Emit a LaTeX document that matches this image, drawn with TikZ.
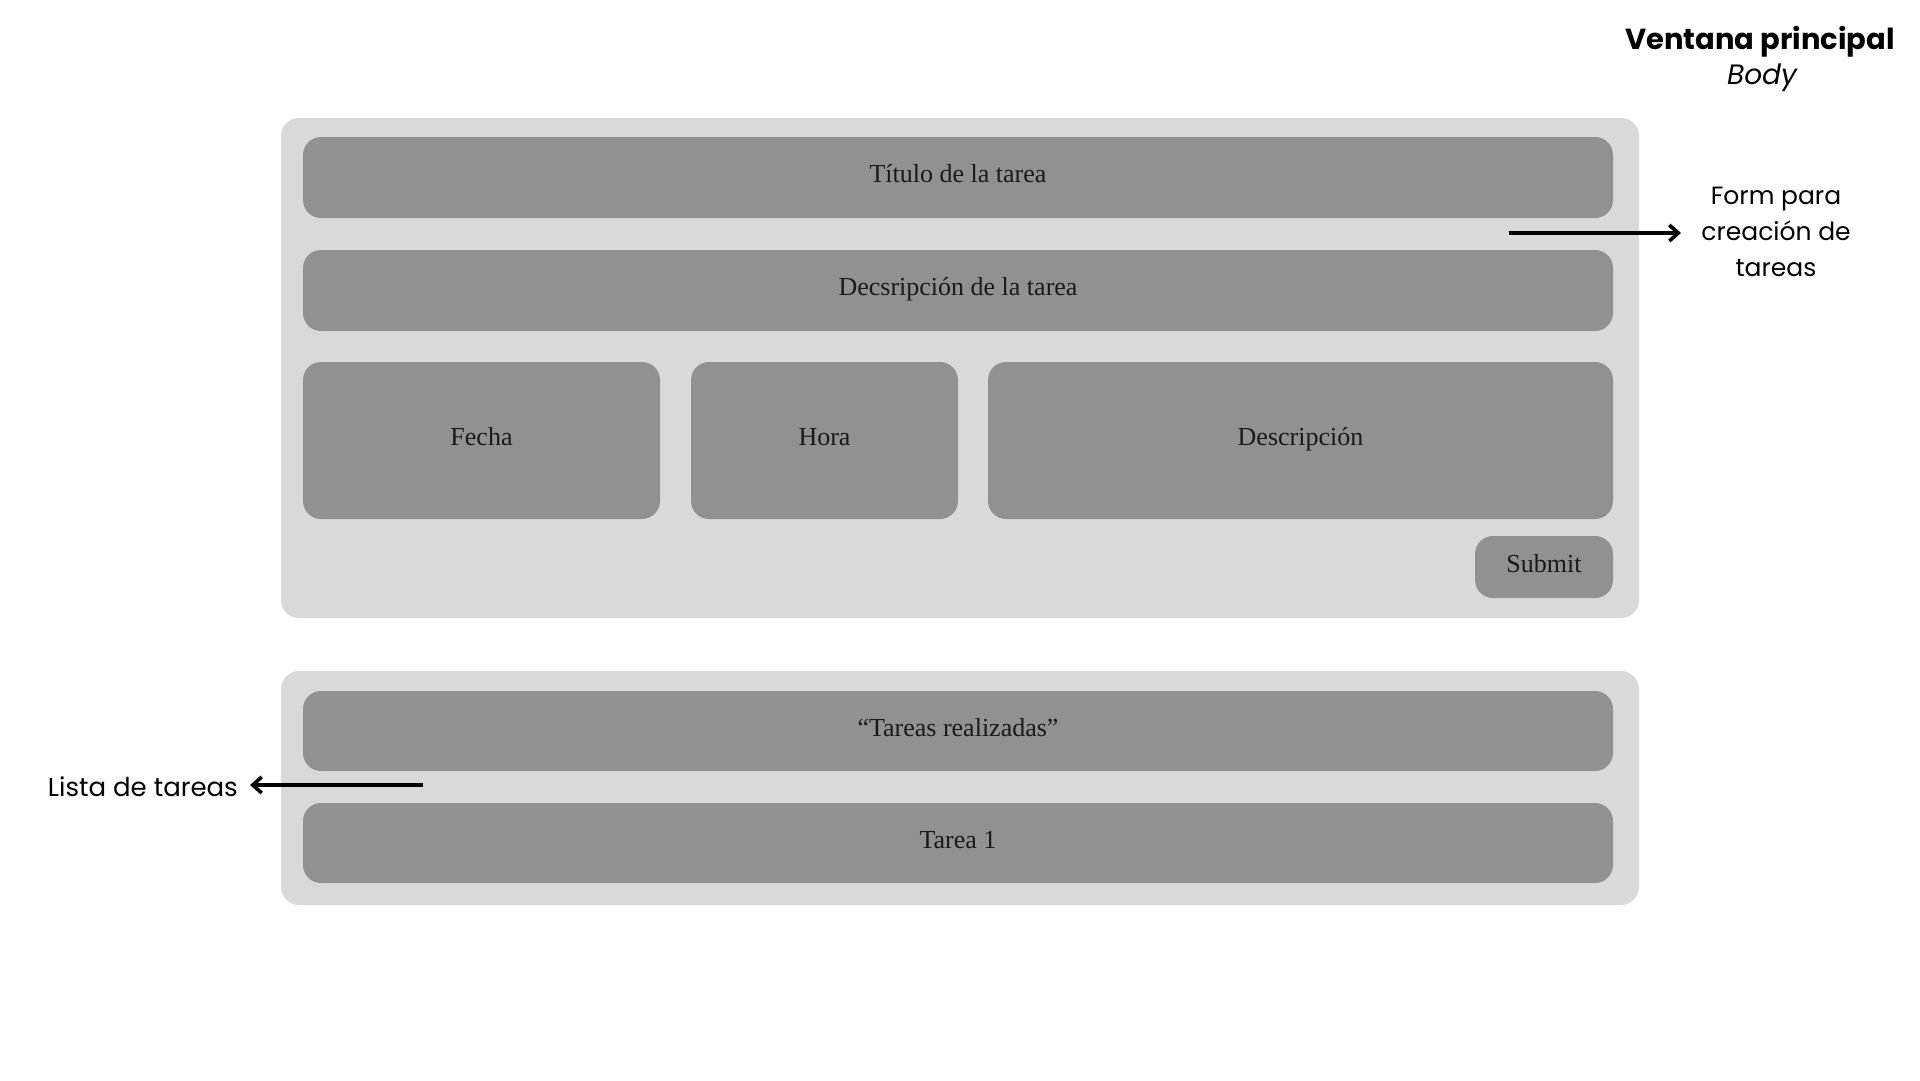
\documentclass[tikz,border=0pt]{standalone}
\usepackage{fontspec}
\setmainfont{Liberation Serif}
\newfontfamily\labfont{Poppins}
\usetikzlibrary{arrows.meta}
\definecolor{outerg}{HTML}{D9D9D9}
\definecolor{innerg}{HTML}{919191}
\definecolor{txt}{HTML}{1A1A1A}
\tikzset{
  outerbox/.style={fill=outerg, draw=none, rounded corners=18pt, inner sep=0pt},
  innerbox/.style={fill=innerg, draw=none, rounded corners=18pt, inner sep=0pt, text=txt,
    font=\fontsize{26}{30}\selectfont, text height=1.02em, text depth=0pt},
  lab/.style={font=\labfont\fontsize{25}{36}\selectfont, align=center, inner sep=0pt},
  arr/.style={line width=3.6pt, -{Straight Barb[length=9pt,width=16pt,line width=3.6pt]}}
}
\begin{document}
\begin{tikzpicture}[x=1pt,y=-1pt]
\useasboundingbox (0,0) rectangle (1920,1080);
\fill[white] (0,0) rectangle (1920,1080);
% form panel
\node[outerbox, minimum width=1358pt, minimum height=500pt] (outer1) at (960,368) {};
\node[innerbox, minimum width=1310pt, minimum height=81pt] (titulo) at (958,177.5) {Título de la tarea};
\node[innerbox, minimum width=1310pt, minimum height=81pt] (desc) at (958,290.5) {Decsripción de la tarea};
\node[innerbox, minimum width=357pt, minimum height=157pt] (fecha) at (481.5,440.5) {Fecha};
\node[innerbox, minimum width=267pt, minimum height=157pt] (hora) at (824.5,440.5) {Hora};
\node[innerbox, minimum width=625pt, minimum height=157pt] (descripcion) at (1300.5,440.5) {Descripción};
\node[innerbox, minimum width=138pt, minimum height=62pt] (submit) at (1544,567) {Submit};
% list panel
\node[outerbox, minimum width=1358pt, minimum height=234pt] (outer2) at (960,788) {};
\node[innerbox, minimum width=1310pt, minimum height=80pt] (realizadas) at (958,731) {“Tareas realizadas”};
\node[innerbox, minimum width=1310pt, minimum height=80pt] (tarea) at (958,843) {Tarea 1};
% title
\node[font=\labfont\bfseries\fontsize{29}{36}\selectfont, inner sep=0pt] (ventana) at (1760,42) {Ventana principal};
\node[font=\labfont\itshape\fontsize{28}{36}\selectfont, inner sep=0pt] (body) at (1762,78) {Body};
% labels
\node[lab] (form) at (1776,232) {Form para\\creación de\\tareas};
\node[lab, font=\labfont\fontsize{26}{36}\selectfont, anchor=east] (lista) at (238,787) {Lista de tareas};
\coordinate (fa) at (1509,233);
\coordinate (la) at (423,785);
\draw[arr] (fa) -- (fa -| 1681,0);
\draw[arr] (la) -- (la -| 250,0);
\end{tikzpicture}
\end{document}
